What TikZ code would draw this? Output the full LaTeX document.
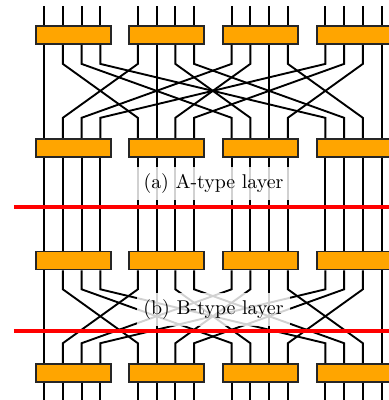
\documentclass[tikz,border=0pt]{standalone}
\usetikzlibrary{calc}
\definecolor{blkorange}{HTML}{FFA500}
\begin{document}
\begin{tikzpicture}[x=0.5026pt,y=-0.5026pt,
  blk/.style={rectangle, draw=black!85, fill=blkorange, line width=0.9pt,
    minimum width=37.7pt, minimum height=9.05pt, inner sep=0pt},
  wire/.style={black, line width=0.95pt},
  redline/.style={red, line width=1.8pt},
  lbl/.style={fill=white, fill opacity=0.82, text opacity=1, inner sep=3.33pt, font=\normalsize}]
\useasboundingbox (0,0) rectangle (389,400);
\clip (0,0) rectangle (389,400);
% blocks
\foreach \r/\yy in {1/35,2/147.7,3/260.4,4/373.1}{
  \foreach \b in {0,...,3}{
    \node[blk] (B\r\b) at ({73.125+93.75*\b},\yy) {};
  }
}
% ports
\foreach \r in {1,...,4}{
  \foreach \b in {0,...,3}{
    \foreach \k in {0,...,3}{
      \coordinate (T\r\b\k) at ($(B\r\b.north west)+({9.375+18.75*\k},0)$);
      \coordinate (S\r\b\k) at ($(B\r\b.south west)+({9.375+18.75*\k},0)$);
    }
  }
}
% free ends and straight runs
\foreach \b in {0,...,3}{
  \foreach \k in {0,...,3}{
    \coordinate (In\b\k) at ($(T1\b\k)+(0,-19)$);
    \coordinate (Out\b\k) at ($(S4\b\k)+(0,30)$);
    \draw[wire] (In\b\k) -- (T1\b\k);
    \draw[wire] (S4\b\k) -- (Out\b\k);
    \draw[wire] (S2\b\k) -- (T3\b\k);
  }
}
% transpose layers
\foreach \ra/\rb in {1/2,3/4}{
  \foreach \b in {0,...,3}{
    \foreach \k in {0,...,3}{
      \draw[wire] (S\ra\b\k) -- ++(0,19) -- ($(T\rb\k\b)+(0,-20)$) -- (T\rb\k\b);
    }
  }
}
% red separators
\coordinate (RL1) at (14,207);
\coordinate (RR1) at (400,207);
\coordinate (RL2) at (14,331);
\coordinate (RR2) at (400,331);
\draw[redline] (RL1) -- (RR1);
\draw[redline] (RL2) -- (RR2);
% labels
\node[lbl] (LA) at (213.5,183.5) {(a) A-type layer};
\node[lbl] (LB) at (213.5,309.5) {(b) B-type layer};
\end{tikzpicture}
\end{document}
